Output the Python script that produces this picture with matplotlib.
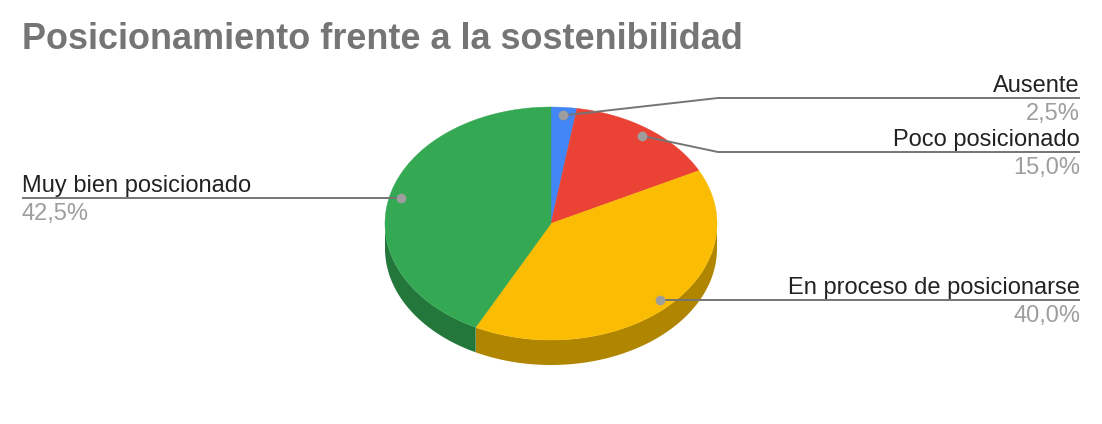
import numpy as np
import matplotlib.pyplot as plt
from matplotlib.patches import Polygon

# %% Data
labels = ["Ausente", "Poco posicionado", "En proceso de posicionarse", "Muy bien posicionado"]
values = [2.5, 15.0, 40.0, 42.5]
pct_labels = ["2,5%", "15,0%", "40,0%", "42,5%"]
colors = ["#4285F4", "#EA4335", "#FBBC04", "#34A853"]
side_colors = ["#2E5FAE", "#A52F25", "#B08500", "#23773B"]
TITLE = "Posicionamiento frente a la sostenibilidad"

# %% Layout (pixel coordinates)
W, H = 1102, 424
CX, CY = 551, 223.5
RX, RY = 166, 116.5
DEPTH = 25
DOT_R = 0.93
ELBOW_X = 718
RIGHT_X, LEFT_X = 1080, 22
label_line_y = [98, 152, None, None]  # None -> horizontal at dot height
LINE_COLOR = "#757575"
DOT_COLOR = "#9E9E9E"
LABEL_FONT = "Liberation Sans"


def ell(theta, r=1.0, dy=0.0):
    # theta in degrees, clockwise from 12 o'clock
    t = np.radians(theta)
    return CX + r * RX * np.sin(t), CY - r * RY * np.cos(t) + dy


fig = plt.figure(figsize=(W / 100, H / 100), dpi=100)
ax = fig.add_axes([0, 0, 1, 1])
ax.set_xlim(0, W)
ax.set_ylim(H, 0)
ax.axis("off")

fracs = np.array(values) / sum(values)
bounds = np.concatenate([[0], np.cumsum(fracs) * 360])

# side walls (front half only: 90..270 deg)
for i in range(len(values)):
    a, b = max(bounds[i], 90), min(bounds[i + 1], 270)
    if b <= a:
        continue
    th = np.linspace(a, b, 100)
    xt, yt = ell(th)
    xb, yb = ell(th[::-1], dy=DEPTH)
    pts = np.column_stack([np.concatenate([xt, xb]), np.concatenate([yt, yb])])
    ax.add_patch(Polygon(pts, closed=True, facecolor=side_colors[i], edgecolor="none", zorder=1))

# top faces
for i in range(len(values)):
    th = np.linspace(bounds[i], bounds[i + 1], 200)
    xs, ys = ell(th)
    pts = np.column_stack([np.concatenate([[CX], xs]), np.concatenate([[CY], ys])])
    ax.add_patch(Polygon(pts, closed=True, facecolor=colors[i], edgecolor=colors[i],
                         linewidth=0.3, zorder=2))

# leader lines and labels
for i in range(len(values)):
    mid = (bounds[i] + bounds[i + 1]) / 2
    dx, dy = ell(mid, DOT_R)
    right = np.sin(np.radians(mid)) >= 0
    end_x = RIGHT_X if right else LEFT_X
    ly = label_line_y[i] if label_line_y[i] is not None else dy
    if label_line_y[i] is not None:
        ax.plot([dx, ELBOW_X, end_x], [dy, ly, ly], color=LINE_COLOR, lw=1.4, zorder=3,
                solid_capstyle="butt")
    else:
        ax.plot([dx, end_x], [dy, ly], color=LINE_COLOR, lw=1.4, zorder=3, solid_capstyle="butt")
    ax.plot(dx, dy, "o", ms=7, color=DOT_COLOR, mec="none", zorder=4)
    ha = "right" if right else "left"
    ax.text(end_x, ly - 6, labels[i], ha=ha, va="baseline", fontsize=17,
            family=LABEL_FONT, color="#222222", zorder=5)
    ax.text(end_x, ly + 22, pct_labels[i], ha=ha, va="baseline", fontsize=17,
            family=LABEL_FONT, color="#9E9E9E", zorder=5)

ax.text(22, 49, TITLE, ha="left", va="baseline", fontsize=25.9, fontweight="bold",
        family="Liberation Sans", color="#757575")

fig.savefig("out.png", dpi=100)
